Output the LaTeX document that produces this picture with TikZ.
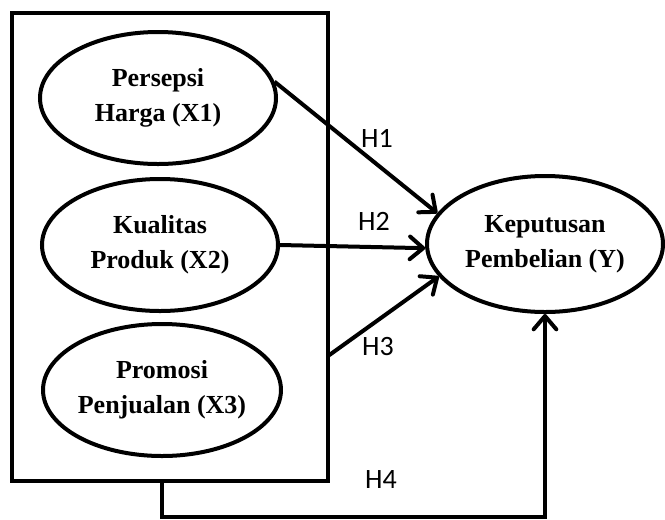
\documentclass[tikz,border=0pt]{standalone}
\usepackage{fontspec}
\setmainfont{Liberation Serif}
\newfontfamily\labelfont{Carlito}
\usetikzlibrary{arrows.meta,shapes.geometric}
\tikzstyle{var}=[ellipse,draw=black,line width=3pt,inner sep=0pt,
  minimum width=177pt,minimum height=99pt,align=center,
  font=\bfseries\fontsize{19.5}{26}\selectfont]
\tikzstyle{frame}=[rectangle,draw=black,line width=3pt,
  minimum width=237pt,minimum height=351pt]
\tikzstyle{hyp}=[inner sep=0pt,font=\labelfont\fontsize{21}{25}\selectfont]
\tikzstyle{arr}=[line width=3pt,-{Straight Barb[round,length=10pt,width=17pt]}]
\tikzstyle{none}=[]

\begin{document}
\begin{tikzpicture}[x=0.75pt,y=-0.75pt]
            \useasboundingbox (0,0) rectangle (665,519);
            \node [style=frame] (4) at (170, 247) {};
            \node [style=var] (0) at (158, 98) {Persepsi\\Harga (X1)};
            \node [style=var] (1) at (160, 245) {Kualitas\\Produk (X2)};
            \node [style=var] (2) at (162, 390) {Promosi\\Penjualan (X3)};
            \node [style=var, minimum height=102pt] (3) at (545, 244) {Keputusan\\Pembelian (Y)};
            \coordinate (5) at (328, 356);
            \coordinate (6) at (162, 481);
            \coordinate (7) at (162, 517);
            \node [style=hyp] (8) at (377, 138) {H1};
            \node [style=hyp] (9) at (374, 221) {H2};
            \node [style=hyp] (10) at (378, 347) {H3};
            \node [style=hyp] (11) at (381, 480) {H4};
            \draw [style=arr] (0.8) to (3.164);
            \draw [style=arr] (1.east) to (3.182);
            \draw [style=arr] (5) to (3.197);
            \draw [style=arr] (6) to (7) -| (3.south);
    \end{tikzpicture}
\end{document}
